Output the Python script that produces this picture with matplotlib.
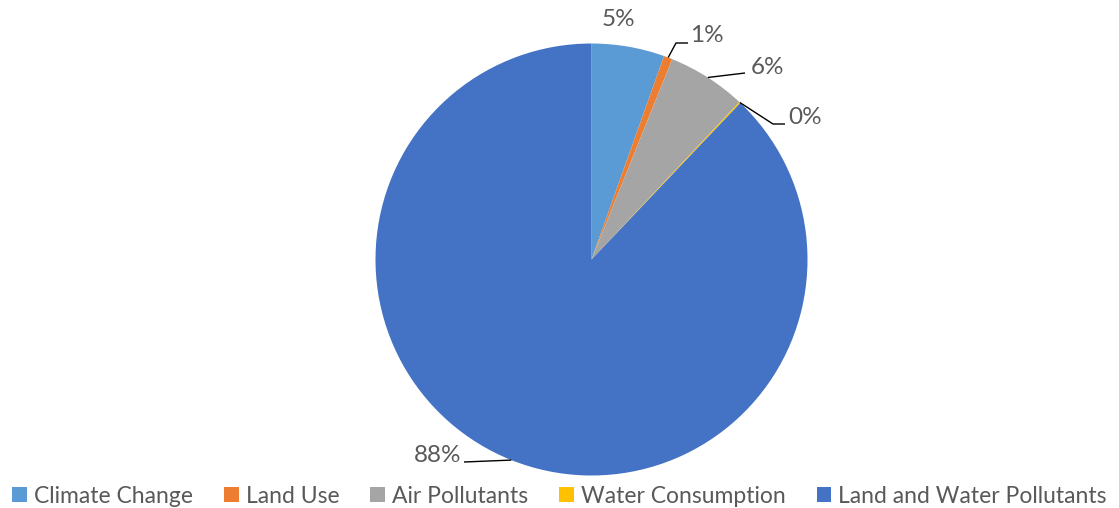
import numpy as np
import matplotlib
matplotlib.use("Agg")
import matplotlib.pyplot as plt

categories = ["Climate Change", "Land Use", "Air Pollutants", "Water Consumption", "Land and Water Pollutants"]
values = [5.45, 0.65, 5.9, 0.1, 87.9]
colors = ["#5B9BD5", "#ED7D31", "#A5A5A5", "#FFC000", "#4472C4"]

W, H = 1119, 508
fig = plt.figure(figsize=(W / 100, H / 100), dpi=100)
ax = fig.add_axes([0, 0, 1, 1])

cx, cy, r = 591.5, H - 259.5, 216
wedges, _ = ax.pie(values, colors=colors, startangle=90, counterclock=False,
                   center=(cx, cy), radius=r, frame=True,
                   wedgeprops=dict(linewidth=0))
ax.set_xlim(0, W)
ax.set_ylim(0, H)
ax.set_aspect("equal")
ax.axis("off")

font = "Lato"
txt_color = "#595959"
total = sum(values)
labels = [f"{v / total * 100:.0f}%" for v in values]

layout = [
    dict(tx=618, ty=20, ha="center", leader=None),
    dict(tx=690, ty=35, ha="left", leader=[(676, 43), (688, 43)]),
    dict(tx=751, ty=68, ha="left", leader=[(745, 73)]),
    dict(tx=788, ty=117, ha="left", leader=[(773, 124), (785, 124)]),
    dict(tx=461, ty=456, ha="right", leader=[(464, 462)]),
]

for w, lab, lay in zip(wedges, labels, layout):
    ang = np.deg2rad((w.theta1 + w.theta2) / 2)
    sx, sy = cx + r * np.cos(ang), cy + r * np.sin(ang)
    if lay["leader"] is not None:
        xs = [sx] + [p[0] for p in lay["leader"]]
        ys = [sy] + [H - p[1] for p in lay["leader"]]
        ax.plot(xs, ys, color="black", lw=1.0, solid_capstyle="butt")
    ax.text(lay["tx"], H - lay["ty"], lab, ha=lay["ha"], va="center",
            fontsize=17.5, color=txt_color, family=font)

leg = fig.legend(wedges, categories, loc="lower center", bbox_to_anchor=(0.5, -0.038),
                 ncol=5, frameon=False, handlelength=0.65, handleheight=0.65,
                 handletextpad=0.3, columnspacing=1.35,
                 prop=dict(family=font, size=16.5))
for t in leg.get_texts():
    t.set_color(txt_color)

fig.savefig("out.png", dpi=100)
